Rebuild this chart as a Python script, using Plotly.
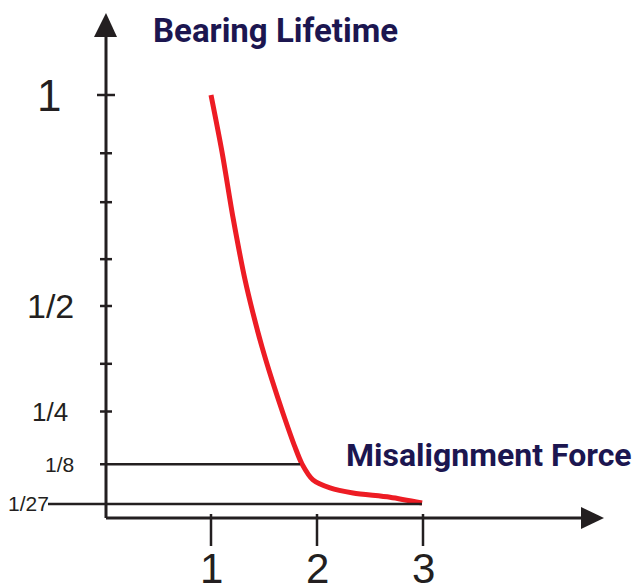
import plotly.graph_objects as go

# ---------------- data ----------------
x_tick_values = [1, 2, 3]
x_tick_labels = ["1", "2", "3"]

y_label_values = [1.0, 0.5, 0.25, 0.125, 0.031]
y_label_texts = ["1", "1/2", "1/4", "1/8", "1/27"]
y_minor_ticks = [0.862, 0.746, 0.611, 0.363]

curve_x = [1.000, 1.104, 1.208, 1.321, 1.396, 1.481, 1.575, 1.679,
           1.792, 1.858, 1.962, 2.123, 2.340, 2.689, 2.991]
curve_y = [1.000, 0.865, 0.709, 0.562, 0.483, 0.403, 0.325, 0.246,
           0.166, 0.126, 0.088, 0.069, 0.057, 0.047, 0.033]

# guide lines: x end on the curve
guide_1_8_end = 1.84
guide_1_27_end = 2.99

# ---------------- layout helpers (screen pixel -> data) ----------------
OFF = 8            # page body margin that shifts the figure on screen
W, H = 640 - OFF, 586 - OFF
X0, XU = 105, 106
Y0, YU = 517, 422


def dx(px):
    return (px - X0) / XU


def dy(py):
    return (Y0 - py) / YU


INK = "#231f20"
NAVY = "#1c1650"
RED = "#ed1c24"
HAND = "Liberation Sans"

fig = go.Figure()

fig.add_trace(go.Scatter(
    x=curve_x, y=curve_y, mode="lines",
    line=dict(color=RED, width=5, shape="spline", smoothing=0.8),
    hoverinfo="skip", showlegend=False))

shapes = []
# y axis and x axis
shapes.append(dict(type="line", x0=dx(106), x1=dx(106), y0=dy(518), y1=dy(33),
                   line=dict(color=INK, width=3)))
shapes.append(dict(type="line", x0=dx(106), x1=dx(583), y0=dy(518), y1=dy(518),
                   line=dict(color=INK, width=3)))
# arrow heads
shapes.append(dict(type="path",
                   path=f"M {dx(94)} {dy(37)} L {dx(106)} {dy(13)} L {dx(117)} {dy(37)} Z",
                   fillcolor=INK, line=dict(color=INK, width=0)))
shapes.append(dict(type="path",
                   path=f"M {dx(581)} {dy(507)} L {dx(604)} {dy(518)} L {dx(581)} {dy(529)} Z",
                   fillcolor=INK, line=dict(color=INK, width=0)))

# y ticks
shapes.append(dict(type="line", x0=dx(97), x1=dx(115), y0=y_label_values[0], y1=y_label_values[0],
                   line=dict(color=INK, width=2.5)))
for v in y_label_values[1:3] + y_minor_ticks:
    shapes.append(dict(type="line", x0=dx(100), x1=dx(112), y0=v, y1=v,
                       line=dict(color=INK, width=2.5)))
# guide lines
shapes.append(dict(type="line", x0=dx(100), x1=guide_1_8_end,
                   y0=y_label_values[3], y1=y_label_values[3],
                   line=dict(color=INK, width=2.5)))
shapes.append(dict(type="line", x0=dx(48), x1=guide_1_27_end,
                   y0=y_label_values[4], y1=y_label_values[4],
                   line=dict(color=INK, width=2.5)))
# x ticks
for xv in x_tick_values:
    shapes.append(dict(type="line", x0=xv, x1=xv, y0=dy(514), y1=dy(546),
                       line=dict(color=INK, width=2.5)))

annotations = []
# y labels
y_label_px = [(49, 44), (50, 34), (50, 26), (59, 21), (28, 21)]
for v, t, (cx, fs) in zip(y_label_values, y_label_texts, y_label_px):
    annotations.append(dict(x=dx(cx), y=v, text=t, showarrow=False,
                            xanchor="center", yanchor="middle",
                            font=dict(family=HAND, size=fs, color=INK)))
# x labels
for xv, t in zip(x_tick_values, x_tick_labels):
    annotations.append(dict(x=xv, y=dy(568), text=t, showarrow=False,
                            xanchor="center", yanchor="middle",
                            font=dict(family=HAND, size=42, color=INK)))
# titles
annotations.append(dict(x=dx(151), y=dy(30), text="Bearing Lifetime", showarrow=False,
                        xanchor="left", yanchor="middle",
                        font=dict(family="Roboto", size=33, color=NAVY, weight="bold")))
annotations.append(dict(x=dx(344), y=dy(455), text="Misalignment Force", showarrow=False,
                        xanchor="left", yanchor="middle",
                        font=dict(family="Roboto", size=32, color=NAVY, weight="bold")))

fig.update_layout(
    width=W, height=H,
    margin=dict(l=0, r=0, t=0, b=0),
    paper_bgcolor="white", plot_bgcolor="white",
    xaxis=dict(range=[dx(OFF), dx(OFF + W)], visible=False, fixedrange=True),
    yaxis=dict(range=[dy(OFF + H), dy(OFF)], visible=False, fixedrange=True),
    shapes=shapes, annotations=annotations,
    showlegend=False,
)

fig.write_html("out.html")
